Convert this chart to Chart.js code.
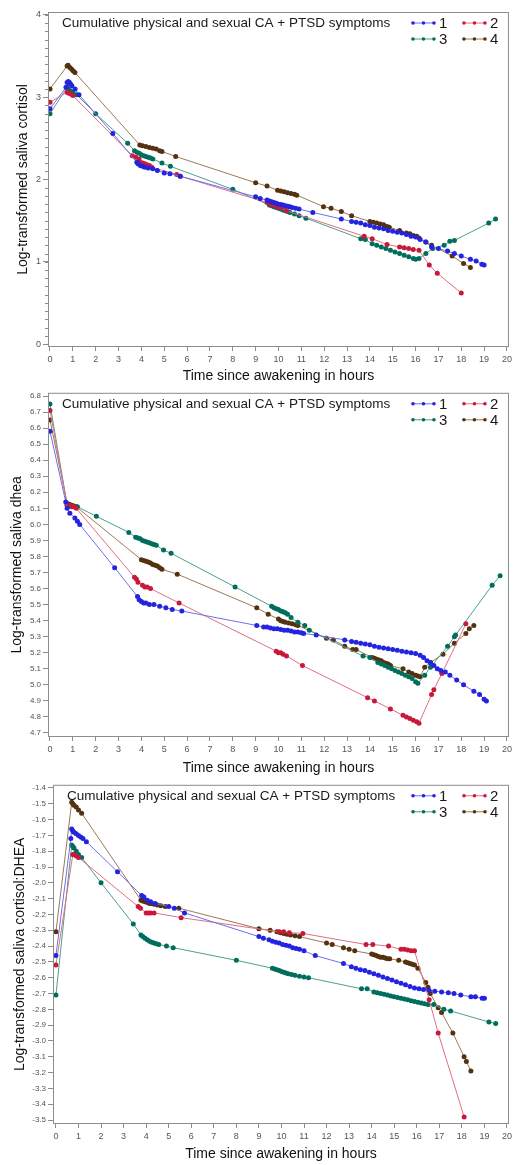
<!DOCTYPE html>
<html>
<head>
<meta charset="utf-8">
<script src="https://cdn.jsdelivr.net/npm/chart.js@4.4.0/dist/chart.umd.min.js"></script>
<style>
  body { margin: 0; background: #fff; }
  .panel { position: absolute; left: 0; width: 515px; }
</style>
</head>
<body>
<div class="panel" style="top:0px;height:386px"><canvas id="cortisolChart" width="515" height="386"></canvas></div>
<div class="panel" style="top:386px;height:392px"><canvas id="dheaChart" width="515" height="392"></canvas></div>
<div class="panel" style="top:778px;height:387px"><canvas id="ratioChart" width="515" height="387"></canvas></div>
<script>
// group labels and axis ticks
const groupLabels = ["1", "2", "3", "4"];
const hourTicks = [0, 1, 2, 3, 4, 5, 6, 7, 8, 9, 10, 11, 12, 13, 14, 15, 16, 17, 18, 19, 20];
const cortisolTicks = [0, 1, 2, 3, 4];
const dheaTicks = [4.7, 4.8, 4.9, 5.0, 5.1, 5.2, 5.3, 5.4, 5.5, 5.6, 5.7, 5.8, 5.9, 6.0, 6.1, 6.2, 6.3, 6.4, 6.5, 6.6, 6.7, 6.8];
const ratioTicks = [-3.5, -3.4, -3.3, -3.2, -3.1, -3.0, -2.9, -2.8, -2.7, -2.6, -2.5, -2.4, -2.3, -2.2, -2.1, -2.0, -1.9, -1.8, -1.7, -1.6, -1.5, -1.4];

// cortisol
const cortisolHours1 = [0, 0.7, 0.75, 0.8, 0.85, 0.9, 0.96, 1.1, 1.27, 2.75, 3.8, 3.85, 3.95, 4.05, 4.15, 4.3, 4.5, 4.7, 5.0, 5.25, 5.7, 9.0, 9.2, 9.5, 9.6, 9.7, 9.8, 9.9, 10.0, 10.1, 10.2, 10.3, 10.4, 10.5, 10.6, 10.75, 10.9, 11.5, 12.75, 13.2, 13.4, 13.6, 13.8, 14.0, 14.2, 14.4, 14.6, 14.8, 15.0, 15.2, 15.4, 15.6, 15.8, 16.0, 16.2, 16.45, 16.7, 17.0, 17.4, 17.7, 18.0, 18.4, 18.65, 18.9, 19.0];
const cortisolLevel1 = [2.86, 3.12, 3.18, 3.19, 3.18, 3.16, 3.14, 3.10, 3.03, 2.56, 2.21, 2.19, 2.17, 2.16, 2.15, 2.14, 2.13, 2.11, 2.08, 2.07, 2.04, 1.79, 1.77, 1.75, 1.74, 1.73, 1.72, 1.71, 1.70, 1.695, 1.69, 1.68, 1.675, 1.67, 1.66, 1.65, 1.64, 1.60, 1.52, 1.49, 1.48, 1.47, 1.45, 1.44, 1.42, 1.41, 1.40, 1.38, 1.37, 1.36, 1.35, 1.33, 1.31, 1.30, 1.27, 1.24, 1.18, 1.16, 1.13, 1.10, 1.07, 1.03, 1.01, 0.97, 0.96];
const cortisolHours2 = [0, 0.75, 0.8, 0.9, 1.0, 3.6, 3.75, 3.9, 3.95, 4.05, 4.15, 4.25, 4.35, 4.45, 5.55, 5.7, 9.5, 9.7, 9.9, 10.1, 10.35, 13.75, 14.1, 14.75, 15.3, 15.5, 15.7, 15.9, 16.15, 16.6, 16.95, 18.0];
const cortisolLevel2 = [2.94, 3.06, 3.05, 3.04, 3.02, 2.29, 2.27, 2.25, 2.21, 2.20, 2.19, 2.18, 2.17, 2.15, 2.06, 2.04, 1.72, 1.69, 1.67, 1.65, 1.62, 1.31, 1.28, 1.21, 1.18, 1.17, 1.16, 1.15, 1.14, 0.96, 0.86, 0.62];
const cortisolHours3 = [0, 0.75, 0.8, 0.9, 1.0, 1.17, 2.0, 3.4, 3.7, 3.8, 3.9, 4.0, 4.1, 4.2, 4.3, 4.4, 4.5, 4.9, 5.27, 8.0, 9.6, 9.7, 9.8, 9.9, 10.0, 10.1, 10.2, 10.3, 10.4, 10.5, 10.7, 10.9, 11.2, 13.6, 13.8, 14.1, 14.3, 14.5, 14.7, 14.9, 15.1, 15.3, 15.5, 15.7, 15.9, 16.0, 16.15, 16.45, 16.75, 17.25, 17.5, 17.7, 19.2, 19.5];
const cortisolLevel3 = [2.80, 3.12, 3.10, 3.08, 3.06, 3.03, 2.80, 2.44, 2.35, 2.33, 2.32, 2.30, 2.29, 2.28, 2.27, 2.26, 2.25, 2.20, 2.16, 1.88, 1.69, 1.68, 1.67, 1.66, 1.65, 1.64, 1.63, 1.62, 1.61, 1.60, 1.58, 1.56, 1.53, 1.28, 1.27, 1.22, 1.20, 1.18, 1.16, 1.14, 1.12, 1.10, 1.08, 1.06, 1.04, 1.03, 1.04, 1.10, 1.16, 1.20, 1.25, 1.26, 1.47, 1.52];
const cortisolHours4 = [0, 0.75, 0.79, 0.87, 0.95, 1.02, 1.09, 3.93, 4.05, 4.2, 4.35, 4.5, 4.65, 4.8, 4.9, 5.5, 9.0, 9.5, 9.96, 10.1, 10.25, 10.4, 10.55, 10.7, 10.8, 11.97, 12.3, 12.75, 13.2, 14.0, 14.15, 14.3, 14.45, 14.6, 14.75, 14.85, 15.3, 15.6, 15.75, 15.9, 16.05, 16.15, 16.45, 16.7, 17.6, 18.1, 18.4];
const cortisolLevel4 = [3.10, 3.38, 3.39, 3.36, 3.34, 3.32, 3.30, 2.42, 2.41, 2.40, 2.39, 2.38, 2.37, 2.35, 2.34, 2.28, 1.96, 1.92, 1.87, 1.86, 1.85, 1.84, 1.83, 1.82, 1.81, 1.67, 1.65, 1.61, 1.56, 1.49, 1.48, 1.47, 1.46, 1.45, 1.43, 1.42, 1.38, 1.35, 1.34, 1.32, 1.31, 1.29, 1.24, 1.20, 1.07, 0.98, 0.93];

// dhea
const dheaHours1 = [0, 0.69, 0.75, 0.87, 1.09, 1.2, 1.3, 2.83, 3.83, 3.9, 4.0, 4.1, 4.2, 4.35, 4.55, 4.8, 5.07, 5.35, 5.77, 9.05, 9.35, 9.5, 9.65, 9.8, 9.95, 10.1, 10.25, 10.4, 10.55, 10.7, 10.85, 11.0, 11.1, 11.65, 12.9, 13.2, 13.4, 13.6, 13.8, 14.0, 14.2, 14.4, 14.6, 14.8, 15.0, 15.2, 15.4, 15.6, 15.8, 16.0, 16.2, 16.35, 16.5, 16.65, 16.8, 16.95, 17.1, 17.3, 17.5, 17.8, 18.1, 18.55, 18.8, 19.0, 19.1];
const dheaLevel1 = [6.58, 6.14, 6.10, 6.07, 6.04, 6.02, 6.00, 5.73, 5.55, 5.53, 5.52, 5.51, 5.51, 5.50, 5.50, 5.49, 5.48, 5.47, 5.46, 5.37, 5.36, 5.36, 5.355, 5.35, 5.35, 5.345, 5.34, 5.34, 5.335, 5.33, 5.33, 5.325, 5.32, 5.31, 5.28, 5.27, 5.265, 5.26, 5.255, 5.25, 5.24, 5.235, 5.23, 5.225, 5.22, 5.215, 5.21, 5.205, 5.20, 5.195, 5.185, 5.17, 5.15, 5.14, 5.12, 5.10, 5.09, 5.08, 5.06, 5.03, 5.00, 4.96, 4.94, 4.91, 4.90];
const dheaHours2 = [0, 0.75, 0.85, 0.95, 1.05, 1.15, 3.7, 3.78, 3.85, 4.05, 4.15, 4.25, 4.4, 5.65, 9.9, 10.0, 10.1, 10.2, 10.35, 11.05, 13.9, 14.2, 14.9, 15.45, 15.6, 15.75, 15.9, 16.05, 16.15, 16.7, 16.8, 17.15, 18.2];
const dheaLevel2 = [6.71, 6.12, 6.12, 6.11, 6.11, 6.10, 5.67, 5.66, 5.64, 5.62, 5.61, 5.61, 5.60, 5.51, 5.21, 5.20, 5.20, 5.19, 5.18, 5.12, 4.92, 4.90, 4.85, 4.81, 4.80, 4.79, 4.78, 4.77, 4.76, 4.94, 4.97, 5.07, 5.38];
const dheaHours3 = [0, 0.75, 0.85, 0.95, 1.05, 1.2, 2.03, 3.45, 3.75, 3.85, 3.95, 4.05, 4.15, 4.25, 4.35, 4.45, 4.55, 4.65, 4.97, 5.3, 8.1, 9.7, 9.8, 9.9, 10.0, 10.1, 10.2, 10.3, 10.4, 10.55, 10.85, 11.15, 11.35, 13.7, 14.0, 14.35, 14.5, 14.65, 14.8, 14.95, 15.1, 15.25, 15.4, 15.55, 15.7, 15.85, 16.0, 16.1, 16.4, 16.65, 17.4, 17.7, 17.75, 19.35, 19.7];
const dheaLevel3 = [6.75, 6.12, 6.12, 6.115, 6.11, 6.11, 6.05, 5.95, 5.92, 5.915, 5.91, 5.90, 5.895, 5.89, 5.885, 5.88, 5.875, 5.87, 5.84, 5.82, 5.61, 5.49, 5.48, 5.475, 5.47, 5.46, 5.455, 5.45, 5.44, 5.42, 5.39, 5.37, 5.34, 5.18, 5.17, 5.14, 5.13, 5.12, 5.11, 5.10, 5.09, 5.08, 5.07, 5.06, 5.05, 5.04, 5.02, 5.01, 5.06, 5.11, 5.24, 5.30, 5.31, 5.62, 5.68];
const dheaHours4 = [0, 0.75, 0.85, 0.95, 1.05, 1.15, 4.0, 4.1, 4.2, 4.3, 4.4, 4.5, 4.6, 4.7, 4.8, 4.9, 5.57, 9.05, 9.55, 10.0, 10.1, 10.2, 10.3, 10.45, 10.6, 10.75, 10.85, 12.1, 12.4, 12.9, 13.25, 13.4, 14.1, 14.2, 14.3, 14.4, 14.5, 14.6, 14.7, 14.8, 14.9, 15.45, 15.7, 15.85, 16.0, 16.1, 16.2, 16.4, 16.65, 17.2, 17.7, 18.2, 18.35, 18.55];
const dheaLevel4 = [6.65, 6.13, 6.125, 6.12, 6.115, 6.11, 5.78, 5.775, 5.77, 5.765, 5.76, 5.75, 5.745, 5.74, 5.73, 5.72, 5.69, 5.48, 5.44, 5.41, 5.40, 5.395, 5.39, 5.385, 5.38, 5.375, 5.37, 5.29, 5.28, 5.24, 5.22, 5.22, 5.17, 5.165, 5.16, 5.155, 5.15, 5.14, 5.135, 5.13, 5.12, 5.10, 5.08, 5.07, 5.06, 5.055, 5.05, 5.11, 5.14, 5.19, 5.26, 5.32, 5.35, 5.37];

// cortisol:DHEA
const ratioHours1 = [0, 0.66, 0.7, 0.74, 0.8, 0.9, 1.0, 1.1, 1.2, 1.35, 2.73, 3.8, 3.9, 4.05, 4.2, 4.4, 5.0, 5.25, 5.7, 9.0, 9.2, 9.45, 9.6, 9.75, 9.9, 10.05, 10.2, 10.35, 10.5, 10.65, 10.8, 11.0, 11.5, 12.75, 13.1, 13.3, 13.5, 13.7, 13.9, 14.1, 14.3, 14.5, 14.7, 14.9, 15.1, 15.3, 15.5, 15.7, 15.9, 16.1, 16.3, 16.55, 16.8, 17.1, 17.4, 17.65, 17.95, 18.4, 18.6, 18.9, 19.0];
const ratioLevel1 = [-2.46, -1.72, -1.66, -1.67, -1.68, -1.69, -1.70, -1.71, -1.72, -1.74, -1.93, -2.08, -2.09, -2.11, -2.12, -2.13, -2.15, -2.16, -2.19, -2.34, -2.35, -2.36, -2.37, -2.375, -2.38, -2.39, -2.395, -2.40, -2.41, -2.415, -2.42, -2.43, -2.46, -2.51, -2.53, -2.54, -2.55, -2.555, -2.565, -2.575, -2.585, -2.595, -2.605, -2.615, -2.625, -2.635, -2.645, -2.655, -2.665, -2.67, -2.675, -2.68, -2.685, -2.69, -2.695, -2.70, -2.71, -2.72, -2.72, -2.73, -2.73];
const ratioHours2 = [0, 0.75, 0.8, 0.9, 1.0, 3.65, 3.75, 4.0, 4.1, 4.2, 4.35, 5.55, 9.9, 10.1, 10.35, 10.95, 13.75, 14.05, 14.75, 15.3, 15.45, 15.6, 15.75, 15.9, 16.55, 16.95, 18.1];
const ratioLevel2 = [-2.52, -1.82, -1.82, -1.83, -1.84, -2.15, -2.16, -2.19, -2.19, -2.19, -2.19, -2.22, -2.31, -2.31, -2.315, -2.32, -2.39, -2.39, -2.40, -2.42, -2.42, -2.425, -2.43, -2.43, -2.74, -2.95, -3.48];
const ratioHours3 = [0, 0.7, 0.75, 0.8, 0.9, 1.0, 1.14, 2.0, 3.43, 3.77, 3.85, 3.95, 4.05, 4.15, 4.25, 4.35, 4.45, 4.56, 4.9, 5.2, 8.0, 9.6, 9.7, 9.8, 9.9, 10.0, 10.1, 10.2, 10.3, 10.45, 10.6, 10.8, 11.0, 11.2, 13.55, 13.8, 14.1, 14.25, 14.4, 14.55, 14.7, 14.85, 15.0, 15.15, 15.3, 15.45, 15.6, 15.75, 15.9, 16.05, 16.2, 16.35, 16.5, 16.75, 17.2, 17.5, 19.2, 19.5];
const ratioLevel3 = [-2.71, -1.76, -1.77, -1.78, -1.80, -1.82, -1.84, -2.00, -2.26, -2.33, -2.34, -2.35, -2.36, -2.37, -2.375, -2.38, -2.385, -2.39, -2.40, -2.41, -2.49, -2.54, -2.545, -2.55, -2.555, -2.56, -2.565, -2.57, -2.575, -2.58, -2.585, -2.59, -2.595, -2.60, -2.67, -2.67, -2.69, -2.695, -2.70, -2.705, -2.71, -2.715, -2.72, -2.725, -2.73, -2.735, -2.74, -2.745, -2.75, -2.755, -2.76, -2.765, -2.77, -2.77, -2.80, -2.81, -2.88, -2.89];
const ratioHours4 = [0, 0.7, 0.75, 0.8, 0.9, 1.0, 1.14, 3.77, 3.85, 3.95, 4.05, 4.15, 4.25, 4.35, 4.5, 4.65, 4.85, 5.45, 9.0, 9.5, 9.8, 9.95, 10.1, 10.25, 10.4, 10.6, 10.8, 12.0, 12.25, 12.75, 13.0, 13.25, 14.0, 14.1, 14.2, 14.3, 14.4, 14.5, 14.6, 14.7, 14.8, 15.2, 15.5, 15.6, 15.7, 15.8, 15.9, 16.05, 16.4, 16.5, 16.6, 16.95, 17.1, 17.6, 18.1, 18.2, 18.4];
const ratioLevel4 = [-2.31, -1.49, -1.50, -1.51, -1.52, -1.54, -1.56, -2.11, -2.115, -2.12, -2.125, -2.13, -2.13, -2.135, -2.14, -2.145, -2.15, -2.16, -2.29, -2.30, -2.31, -2.315, -2.32, -2.325, -2.33, -2.335, -2.34, -2.38, -2.39, -2.41, -2.42, -2.43, -2.45, -2.455, -2.46, -2.465, -2.47, -2.47, -2.475, -2.48, -2.48, -2.49, -2.50, -2.505, -2.51, -2.515, -2.52, -2.54, -2.63, -2.66, -2.70, -2.79, -2.82, -2.95, -3.10, -3.13, -3.19];

const dotColors = ["#2323e0", "#c8193a", "#006e5c", "#55320f"];
const lineColors = ["#6f6ff0", "#e06f85", "#4f9f8c", "#9a7a55"];
const panelTitle = "Cumulative physical and sexual CA + PTSD symptoms";
const fontFamily = "'Liberation Sans', Arial, sans-serif";

// frame, minor ticks, inner title and legend
function panelDecor(minorFrom, minorTo, minorStep) {
    return {
        id: "panelDecor",
        afterDraw(chart) {
            const ctx = chart.ctx;
            const a = chart.chartArea;
            ctx.save();
            ctx.strokeStyle = "#8c8c8c";
            ctx.lineWidth = 1;
            ctx.strokeRect(a.left + 0.5, a.top + 0.5, a.right - a.left - 1, a.bottom - a.top - 1);
            if (minorStep) {
                const ys = chart.scales.y;
                ctx.beginPath();
                for (let v = minorFrom; v <= minorTo + 1e-9; v += minorStep) {
                    const py = Math.round(ys.getPixelForValue(v)) + 0.5;
                    ctx.moveTo(a.left - 3, py);
                    ctx.lineTo(a.left, py);
                }
                ctx.stroke();
            }
            ctx.fillStyle = "#1a1a1a";
            ctx.font = "13.5px " + fontFamily;
            ctx.textBaseline = "middle";
            ctx.fillText(panelTitle, a.left + 14, a.top + 11);
            chart.data.datasets.forEach(function(ds, i) {
                const x0 = a.right - 96 + (i % 2) * 51;
                const y0 = a.top + 11 + Math.floor(i / 2) * 16;
                ctx.strokeStyle = ds.borderColor;
                ctx.beginPath();
                ctx.moveTo(x0, y0);
                ctx.lineTo(x0 + 21, y0);
                ctx.stroke();
                ctx.fillStyle = ds.pointBackgroundColor;
                [0, 10.5, 21].forEach(function(dx) {
                    ctx.beginPath();
                    ctx.arc(x0 + dx, y0, 1.8, 0, Math.PI * 2);
                    ctx.fill();
                });
                ctx.fillStyle = "#1a1a1a";
                ctx.font = "15px " + fontFamily;
                ctx.fillText(ds.label, x0 + 26, y0 + 1);
            });
            ctx.restore();
        }
    };
}

function makeChart(id, p) {
    const ctx = document.getElementById(id).getContext("2d");
    return new Chart(ctx, {
        type: "line",
        data: {
            datasets: p.series.map(function(s, i) {
                return {
                    label: groupLabels[i],
                    data: s[0].map(function(h, j) { return { x: h, y: s[1][j] }; }),
                    borderColor: lineColors[i],
                    borderWidth: 1,
                    pointBackgroundColor: dotColors[i],
                    pointBorderWidth: 0,
                    pointRadius: 2.5,
                    tension: 0,
                    fill: false
                };
            })
        },
        options: {
            responsive: false,
            animation: false,
            layout: { padding: { top: p.top, right: p.right, left: 0, bottom: 0 } },
            plugins: { legend: { display: false }, tooltip: { enabled: false } },
            scales: {
                x: {
                    type: "linear",
                    min: p.xMin,
                    max: p.xMax,
                    afterBuildTicks: function(sc) { sc.ticks = hourTicks.map(function(v) { return { value: v }; }); },
                    afterFit: function(sc) { sc.height = p.xHeight; },
                    grid: { drawOnChartArea: false, tickLength: 4, color: "#8c8c8c" },
                    border: { display: false },
                    ticks: { autoSkip: false, maxRotation: 0, padding: 3, color: "#555", font: { size: 9, family: fontFamily } },
                    title: { display: true, text: "Time since awakening in hours", color: "#111", font: { size: 14, family: fontFamily }, padding: { top: 0, bottom: p.xTitlePad } }
                },
                y: {
                    type: "linear",
                    min: p.yMin,
                    max: p.yMax,
                    afterBuildTicks: function(sc) { sc.ticks = p.yTicks.map(function(v) { return { value: v }; }); },
                    afterFit: function(sc) { sc.width = p.yWidth; },
                    grid: { drawOnChartArea: false, tickLength: 5, color: "#8c8c8c" },
                    border: { display: false },
                    ticks: { autoSkip: false, padding: 2, color: "#555", font: { size: p.yFont, family: fontFamily },
                        callback: function(v) { return v.toFixed(p.decimals); } },
                    title: { display: true, text: p.yTitle, color: "#111", font: { size: 14, family: fontFamily }, padding: { top: p.yTitlePad, bottom: 0 } }
                }
            }
        },
        plugins: [panelDecor(p.minorFrom, p.minorTo, p.minorStep)]
    });
}

makeChart("cortisolChart", {
    series: [[cortisolHours1, cortisolLevel1], [cortisolHours2, cortisolLevel2], [cortisolHours3, cortisolLevel3], [cortisolHours4, cortisolLevel4]],
    yTicks: cortisolTicks, yMin: -0.036, yMax: 4.036, decimals: 0, yFont: 9,
    yTitle: "Log-transformed saliva cortisol",
    xMin: -0.087, xMax: 20.087,
    top: 12, right: 5, xHeight: 39, yWidth: 48, yTitlePad: 15, xTitlePad: 1,
    minorFrom: 0, minorTo: 4, minorStep: 0.1
});

makeChart("dheaChart", {
    series: [[dheaHours1, dheaLevel1], [dheaHours2, dheaLevel2], [dheaHours3, dheaLevel3], [dheaHours4, dheaLevel4]],
    yTicks: dheaTicks, yMin: 4.675, yMax: 6.82, decimals: 1, yFont: 8,
    yTitle: "Log-transformed saliva dhea",
    xMin: -0.087, xMax: 20.087,
    top: 6, right: 2, xHeight: 41, yWidth: 48, yTitlePad: 9, xTitlePad: 1,
    minorStep: 0
});

makeChart("ratioChart", {
    series: [[ratioHours1, ratioLevel1], [ratioHours2, ratioLevel2], [ratioHours3, ratioLevel3], [ratioHours4, ratioLevel4]],
    yTicks: ratioTicks, yMin: -3.525, yMax: -1.38, decimals: 1, yFont: 8,
    yTitle: "Log-transformed saliva cortisol:DHEA",
    xMin: -0.13, xMax: 20.09,
    top: 4, right: 1, xHeight: 41, yWidth: 53, yTitlePad: 12, xTitlePad: 2,
    minorStep: 0
});
</script>
</body>
</html>
